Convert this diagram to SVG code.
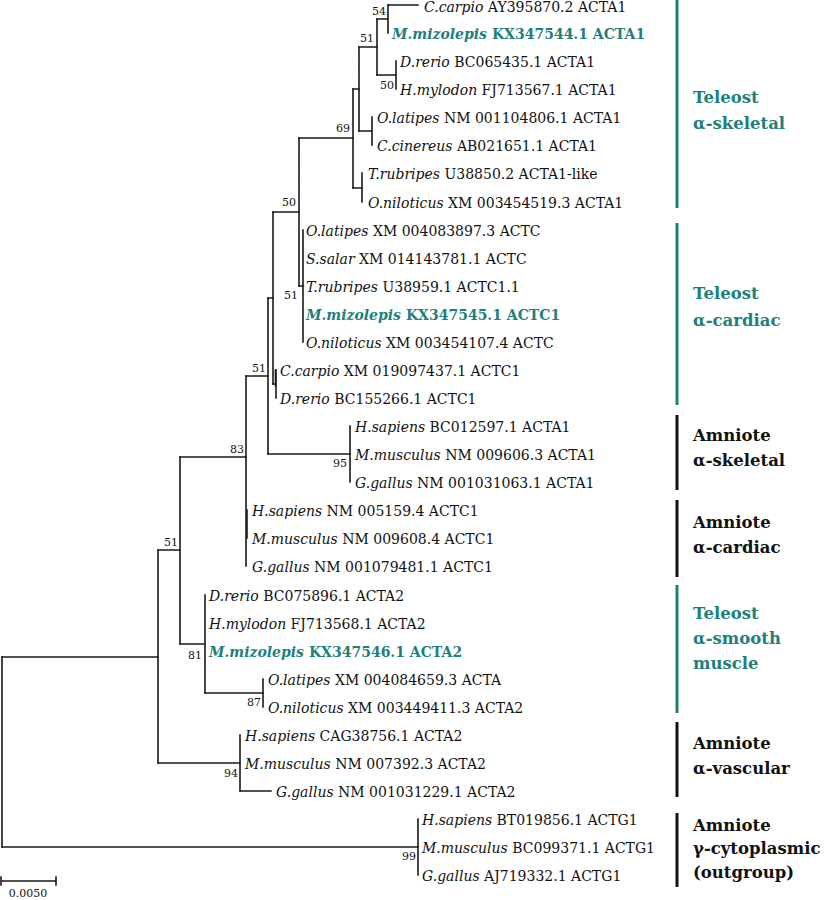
<svg xmlns="http://www.w3.org/2000/svg" width="827" height="900" viewBox="0 0 827 900">
<style>
.br{fill:none;stroke:#1a1a1a;stroke-width:1.6;stroke-linecap:square}
.lf{font-family:"DejaVu Serif","Liberation Serif",serif;font-size:14px;fill:#111}
.sp{font-style:italic}
.hl{fill:#1e7f7b;font-weight:bold}
.bs{font-family:"DejaVu Serif","Liberation Serif",serif;font-size:11px;fill:#111;text-anchor:end}
.cl{font-family:"DejaVu Serif","Liberation Serif",serif;font-size:16.5px;font-weight:bold;fill:#111}
.clt{fill:#1e7f7b}
.bar{stroke:#111;stroke-width:3}
.bart{stroke:#1e7f7b;stroke-width:3}
</style>
<rect width="827" height="900" fill="#fff"/>
<g id="connectors">
<path class="br" d="M388 5V33 M396 61V89 M377 19V75 M372 117V145 M359 47V131 M362 173V202 M353 89V188 M299 138V286 M303 230V342 M276 370V398 M273 212V384 M350 426V482 M268 298V454 M246 376V566 M263 679V707 M205 595V693 M180 457V644 M240 735V791 M158 550V763 M418 819V875 M2 657V847"/>
<path class="br" d="M388 5H418 M377 19H388 M377 75H396 M359 47H377 M359 131H372 M353 89H359 M353 188H362 M299 138H353 M299 286H303 M273 212H299 M273 384H276 M268 298H273 M268 454H350 M246 376H268 M180 457H246 M205 693H263 M180 644H205 M158 550H180 M158 763H240 M240 791H271 M2 657H158 M2 847H418"/>
<path class="br" stroke-width="2.4" d="M247 510V538 M275.5 370V386"/>
</g>
<g id="bootstrap">
<text class="bs" x="386" y="15">54</text>
<text class="bs" x="374" y="42">51</text>
<text class="bs" x="394" y="89">50</text>
<text class="bs" x="350" y="132">69</text>
<text class="bs" x="296" y="206">50</text>
<text class="bs" x="298" y="299">51</text>
<text class="bs" x="266" y="372">51</text>
<text class="bs" x="244" y="453">83</text>
<text class="bs" x="347" y="467">95</text>
<text class="bs" x="178" y="546">51</text>
<text class="bs" x="202" y="659">81</text>
<text class="bs" x="261" y="706">87</text>
<text class="bs" x="238" y="777">94</text>
<text class="bs" x="416" y="860">99</text>
</g>
<g id="leaves">
<g id="leaf1"><text class="lf" x="424" y="12"><tspan class="sp">C.carpio</tspan> AY395870.2 ACTA1</text></g>
<g id="leaf2"><text class="lf hl" x="392" y="39"><tspan class="sp">M.mizolepis</tspan> KX347544.1 ACTA1</text></g>
<g id="leaf3"><text class="lf" x="400" y="67"><tspan class="sp">D.rerio</tspan> BC065435.1 ACTA1</text></g>
<g id="leaf4"><text class="lf" x="400" y="95"><tspan class="sp">H.mylodon</tspan> FJ713567.1 ACTA1</text></g>
<g id="leaf5"><text class="lf" x="377" y="123"><tspan class="sp">O.latipes</tspan> NM 001104806.1 ACTA1</text></g>
<g id="leaf6"><text class="lf" x="377" y="151"><tspan class="sp">C.cinereus</tspan> AB021651.1 ACTA1</text></g>
<g id="leaf7"><text class="lf" x="368" y="179"><tspan class="sp">T.rubripes</tspan> U38850.2 ACTA1-like</text></g>
<g id="leaf8"><text class="lf" x="368" y="208"><tspan class="sp">O.niloticus</tspan> XM 003454519.3 ACTA1</text></g>
<g id="leaf9"><text class="lf" x="306" y="236"><tspan class="sp">O.latipes</tspan> XM 004083897.3 ACTC</text></g>
<g id="leaf10"><text class="lf" x="306" y="264"><tspan class="sp">S.salar</tspan> XM 014143781.1 ACTC</text></g>
<g id="leaf11"><text class="lf" x="306" y="292"><tspan class="sp">T.rubripes</tspan> U38959.1 ACTC1.1</text></g>
<g id="leaf12"><text class="lf hl" x="306" y="320"><tspan class="sp">M.mizolepis</tspan> KX347545.1 ACTC1</text></g>
<g id="leaf13"><text class="lf" x="306" y="348"><tspan class="sp">O.niloticus</tspan> XM 003454107.4 ACTC</text></g>
<g id="leaf14"><text class="lf" x="280" y="376"><tspan class="sp">C.carpio</tspan> XM 019097437.1 ACTC1</text></g>
<g id="leaf15"><text class="lf" x="280" y="404"><tspan class="sp">D.rerio</tspan> BC155266.1 ACTC1</text></g>
<g id="leaf16"><text class="lf" x="355" y="432"><tspan class="sp">H.sapiens</tspan> BC012597.1 ACTA1</text></g>
<g id="leaf17"><text class="lf" x="355" y="460"><tspan class="sp">M.musculus</tspan> NM 009606.3 ACTA1</text></g>
<g id="leaf18"><text class="lf" x="355" y="488"><tspan class="sp">G.gallus</tspan> NM 001031063.1 ACTA1</text></g>
<g id="leaf19"><text class="lf" x="252" y="516"><tspan class="sp">H.sapiens</tspan> NM 005159.4 ACTC1</text></g>
<g id="leaf20"><text class="lf" x="252" y="544"><tspan class="sp">M.musculus</tspan> NM 009608.4 ACTC1</text></g>
<g id="leaf21"><text class="lf" x="252" y="572"><tspan class="sp">G.gallus</tspan> NM 001079481.1 ACTC1</text></g>
<g id="leaf22"><text class="lf" x="209" y="601"><tspan class="sp">D.rerio</tspan> BC075896.1 ACTA2</text></g>
<g id="leaf23"><text class="lf" x="209" y="629"><tspan class="sp">H.mylodon</tspan> FJ713568.1 ACTA2</text></g>
<g id="leaf24"><text class="lf hl" x="209" y="657"><tspan class="sp">M.mizolepis</tspan> KX347546.1 ACTA2</text></g>
<g id="leaf25"><text class="lf" x="268" y="685"><tspan class="sp">O.latipes</tspan> XM 004084659.3 ACTA</text></g>
<g id="leaf26"><text class="lf" x="268" y="713"><tspan class="sp">O.niloticus</tspan> XM 003449411.3 ACTA2</text></g>
<g id="leaf27"><text class="lf" x="245" y="741"><tspan class="sp">H.sapiens</tspan> CAG38756.1 ACTA2</text></g>
<g id="leaf28"><text class="lf" x="245" y="769"><tspan class="sp">M.musculus</tspan> NM 007392.3 ACTA2</text></g>
<g id="leaf29"><text class="lf" x="276" y="797"><tspan class="sp">G.gallus</tspan> NM 001031229.1 ACTA2</text></g>
<g id="leaf30"><text class="lf" x="422" y="825"><tspan class="sp">H.sapiens</tspan> BT019856.1 ACTG1</text></g>
<g id="leaf31"><text class="lf" x="422" y="853"><tspan class="sp">M.musculus</tspan> BC099371.1 ACTG1</text></g>
<g id="leaf32"><text class="lf" x="422" y="881"><tspan class="sp">G.gallus</tspan> AJ719332.1 ACTG1</text></g>
</g>
<g id="clade-teleost-skeletal"><line class="bart" x1="677" y1="0" x2="677" y2="208"/><text class="cl clt" x="693" y="103">Teleost</text><text class="cl clt" x="693" y="129">α-skeletal</text></g>
<g id="clade-teleost-cardiac"><line class="bart" x1="677" y1="223" x2="677" y2="405"/><text class="cl clt" x="693" y="299">Teleost</text><text class="cl clt" x="693" y="326">α-cardiac</text></g>
<g id="clade-amniote-skeletal"><line class="bar" x1="677" y1="415" x2="677" y2="490"/><text class="cl" x="693" y="441">Amniote</text><text class="cl" x="693" y="466">α-skeletal</text></g>
<g id="clade-amniote-cardiac"><line class="bar" x1="677" y1="500" x2="677" y2="577"/><text class="cl" x="693" y="528">Amniote</text><text class="cl" x="693" y="553">α-cardiac</text></g>
<g id="clade-teleost-smooth"><line class="bart" x1="677" y1="585" x2="677" y2="713"/><text class="cl clt" x="693" y="619">Teleost</text><text class="cl clt" x="693" y="644">α-smooth</text><text class="cl clt" x="693" y="669">muscle</text></g>
<g id="clade-amniote-vascular"><line class="bar" x1="677" y1="722" x2="677" y2="797"/><text class="cl" x="693" y="749">Amniote</text><text class="cl" x="693" y="774">α-vascular</text></g>
<g id="clade-amniote-cyto"><line class="bar" x1="677" y1="813" x2="677" y2="887"/><text class="cl" x="693" y="831">Amniote</text><text class="cl" x="693" y="854">γ-cytoplasmic</text><text class="cl" x="693" y="878">(outgroup)</text></g>
<g id="scale-bar"><path class="br" d="M1 881H56 M1 877V885 M56 877V885"/><text class="bs" x="28" y="897" style="text-anchor:middle">0.0050</text></g>
</svg>
